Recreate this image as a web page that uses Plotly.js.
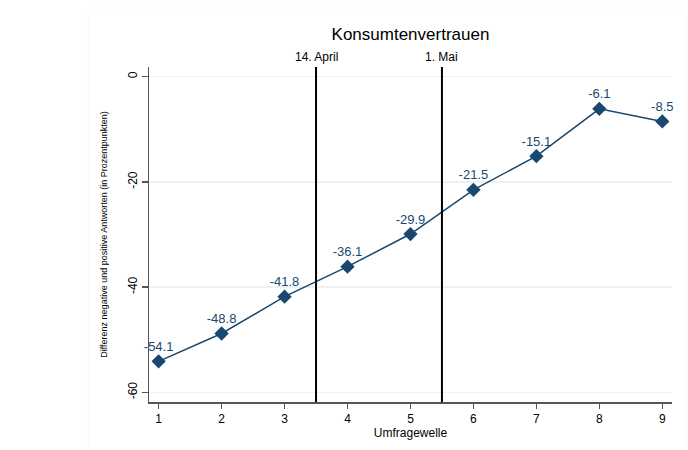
<!DOCTYPE html>
<html>
<head>
<meta charset="utf-8">
<script src="https://cdn.plot.ly/plotly-3.0.1.min.js"></script>
<style>html,body{margin:0;padding:0;background:#fff;}#chart{width:688px;height:450px;}</style>
</head>
<body>
<div id="chart"></div>
<script>
const waves = [1, 2, 3, 4, 5, 6, 7, 8, 9];
const confidence = [-54.1, -48.8, -41.8, -36.1, -29.9, -21.5, -15.1, -6.1, -8.5];
const eventPositions = [3.5, 5.5];
const eventLabels = ["14. April", "1. Mai"];
const yTicks = [0, -20, -40, -60];
const xTicks = [1, 2, 3, 4, 5, 6, 7, 8, 9];

const navy = "#1a476f";
const font = "Liberation Sans, Arial, sans-serif";

const lineTrace = {
  x: waves,
  y: confidence,
  mode: "lines+markers",
  line: {color: navy, width: 1.5},
  marker: {symbol: "diamond", size: 11, color: navy},
  cliponaxis: false,
  hoverinfo: "x+y"
};

const labelTrace = {
  x: waves,
  y: confidence,
  mode: "markers+text",
  text: confidence.map(v => v.toFixed(1)),
  textposition: "top center",
  textfont: {family: font, size: 13, color: navy},
  marker: {size: 10, opacity: 0, color: navy},
  cliponaxis: false,
  hoverinfo: "skip"
};

const shapes = eventPositions.map(p => ({
  type: "line", xref: "x", yref: "paper", x0: p, x1: p, y0: 0, y1: 1,
  line: {color: "#000", width: 2}
}));
shapes.push({
  type: "rect", xref: "paper", yref: "paper",
  x0: -0.1166, x1: 1.0268, y0: -0.3, y1: 1.176,
  line: {color: "#f8f8f8", width: 1}, fillcolor: "rgba(0,0,0,0)", layer: "below"
});

const annotations = eventPositions.map((p, i) => ({
  x: p, xref: "x", y: 1, yref: "paper", yanchor: "bottom", yshift: 1,
  text: eventLabels[i], showarrow: false,
  font: {family: font, size: 12, color: "#000"}
}));

const layout = {
  width: 688, height: 450,
  margin: {l: 149, r: 16, t: 67, b: 48},
  paper_bgcolor: "#fff", plot_bgcolor: "#fff",
  showlegend: false,
  title: {text: "Konsumtenvertrauen", font: {family: font, size: 17, color: "#000"},
          x: 0.5, xref: "paper", y: 0.925, yanchor: "middle"},
  xaxis: {
    range: [0.847, 9.154], tickvals: xTicks, ticktext: xTicks.map(String),
    showgrid: false, zeroline: false, showline: true, linecolor: "#555", linewidth: 1.5,
    ticks: "outside", ticklen: 5, tickcolor: "#555", tickwidth: 1.5,
    tickfont: {family: font, size: 12, color: "#000"},
    title: {text: "Umfragewelle", font: {family: font, size: 12, color: "#000"}, standoff: 2}
  },
  yaxis: {
    range: [-61.82, 1.84], tickvals: yTicks, ticktext: yTicks.map(String),
    showgrid: true, gridcolor: "#eaf2f3", gridwidth: 1.5, zeroline: false,
    showline: true, linecolor: "#555", linewidth: 1.5,
    ticks: "outside", ticklen: 6, tickcolor: "#555", tickwidth: 1.5, tickangle: -90,
    tickfont: {family: font, size: 12, color: "#000"},
    title: {text: "Differenz negative und positive Antworten (in Prozentpunkten)",
            font: {family: font, size: 9, color: "#000"}, standoff: 16}
  },
  shapes: shapes,
  annotations: annotations
};

Plotly.newPlot("chart", [lineTrace, labelTrace], layout, {displayModeBar: false, staticPlot: true});
</script>
</body>
</html>
